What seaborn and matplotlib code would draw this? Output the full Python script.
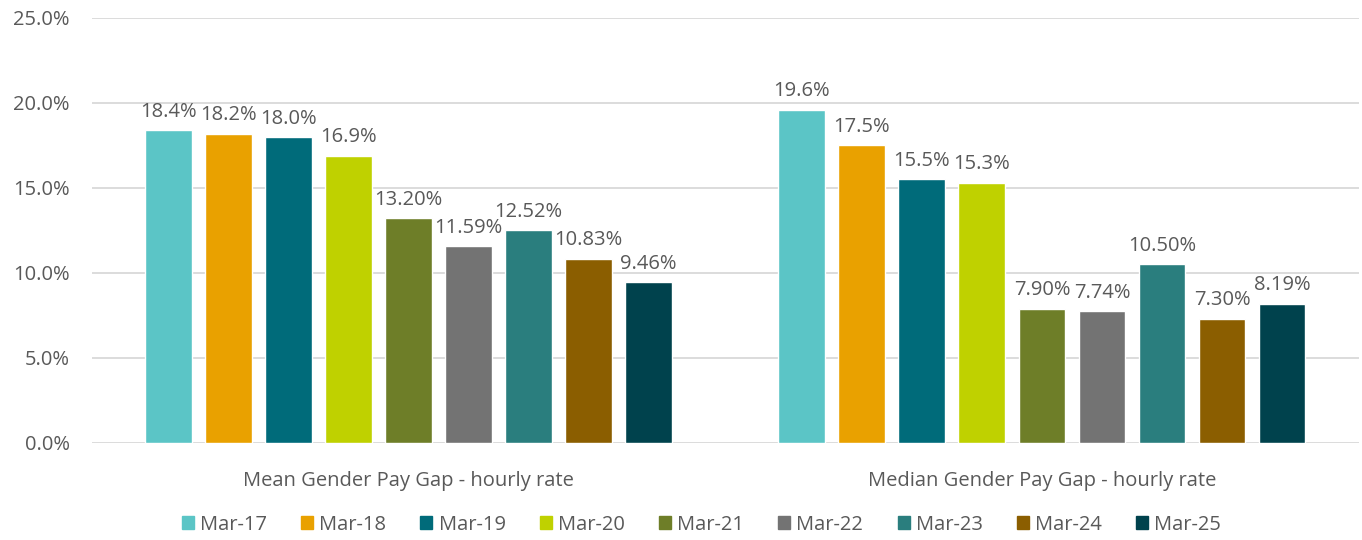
import pandas as pd
import matplotlib
matplotlib.use("Agg")
import matplotlib.pyplot as plt
import seaborn as sns
from matplotlib.ticker import PercentFormatter

# chart data
categories = ["Mean Gender Pay Gap - hourly rate", "Median Gender Pay Gap - hourly rate"]
periods = ["Mar-17", "Mar-18", "Mar-19", "Mar-20", "Mar-21", "Mar-22", "Mar-23", "Mar-24", "Mar-25"]
mean_gap = [18.4, 18.2, 18.0, 16.9, 13.20, 11.59, 12.52, 10.83, 9.46]
median_gap = [19.6, 17.5, 15.5, 15.3, 7.90, 7.74, 10.50, 7.30, 8.19]
mean_labels = ["18.4%", "18.2%", "18.0%", "16.9%", "13.20%", "11.59%", "12.52%", "10.83%", "9.46%"]
median_labels = ["19.6%", "17.5%", "15.5%", "15.3%", "7.90%", "7.74%", "10.50%", "7.30%", "8.19%"]
colors = ["#5BC5C6", "#E9A100", "#006B7A", "#BFD100", "#6E7E28",
          "#737373", "#2A7E7E", "#8B5E00", "#00424D"]

df = pd.DataFrame({
    "category": [categories[0]] * len(periods) + [categories[1]] * len(periods),
    "period": periods * 2,
    "value": mean_gap + median_gap,
})

sns.set_style("white")
plt.rcParams["font.family"] = ["Open Sans", "DejaVu Sans"]
text_col = "#595959"
fs = 14.5

fig = plt.figure(figsize=(13.62, 5.40), dpi=100)
ax = fig.add_axes([0.0675, 0.18, 0.93, 0.7867])

sns.barplot(data=df, x="category", y="value", hue="period", hue_order=periods,
            palette=colors, width=0.853, gap=0.22, saturation=1, ax=ax, legend=False)

# data labels, one container per period
for i, cont in enumerate(ax.containers):
    ax.bar_label(cont, labels=[mean_labels[i], median_labels[i]], padding=6,
                 fontsize=fs, color=text_col)

ax.set_ylim(0, 25)
ax.set_xlim(-0.5, 1.5)
ax.set_yticks([0, 5, 10, 15, 20, 25])
ax.yaxis.set_major_formatter(PercentFormatter(decimals=1))
ax.grid(axis="y", color="#D9D9D9", linewidth=1.3)
ax.set_axisbelow(True)
for s in ax.spines.values():
    s.set_visible(False)
ax.tick_params(axis="both", length=0, labelsize=fs, labelcolor=text_col)
ax.tick_params(axis="y", pad=16)
ax.tick_params(axis="x", pad=20)
ax.set_xlabel("")
ax.set_ylabel("")

handles = [plt.Rectangle((0, 0), 1, 1, color=c) for c in colors]
fig.legend(handles, periods, loc="center", bbox_to_anchor=(0.515, 0.028), ncol=9,
           frameon=False, fontsize=fs, handlelength=0.6, handleheight=0.6,
           handletextpad=0.3, columnspacing=1.7, labelcolor=text_col)

fig.savefig("out.png", dpi=100)
